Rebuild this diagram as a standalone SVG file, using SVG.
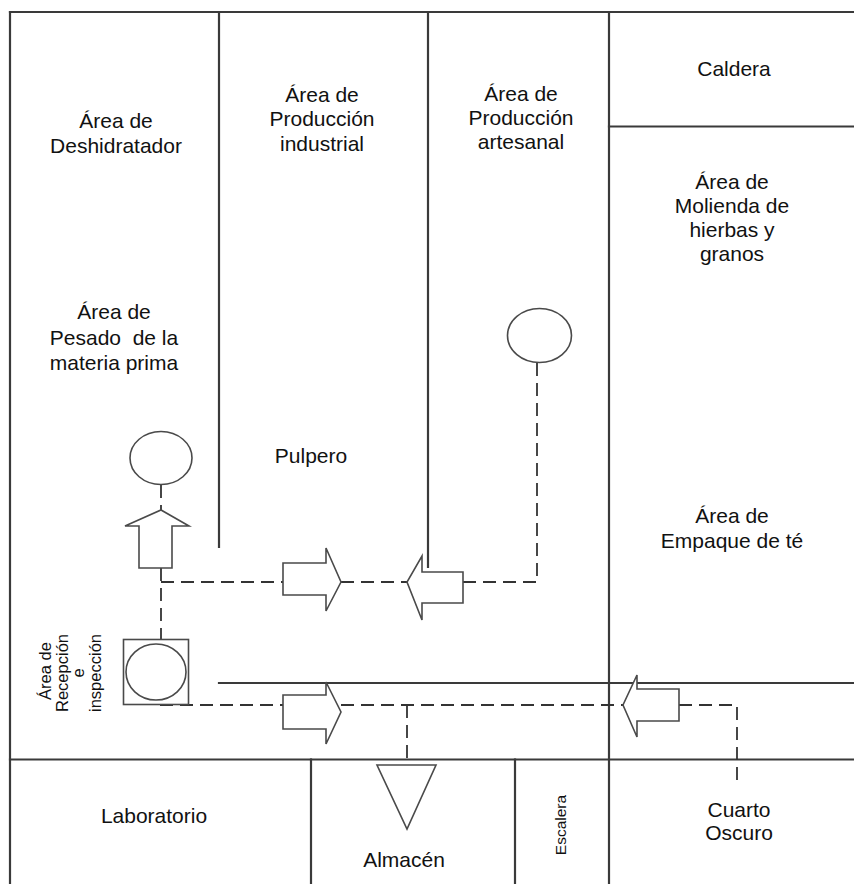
<svg xmlns="http://www.w3.org/2000/svg" width="854" height="884" viewBox="0 0 854 884">
<style>
.wall{stroke:#3a3a3a;stroke-width:2.2;fill:none;stroke-linecap:square}
.shape{stroke:#4a4a4a;stroke-width:1.6;fill:#fff}
.flow{stroke:#333;stroke-width:1.8;fill:none;stroke-dasharray:13 7}
.lbl{font-family:"Liberation Sans",Arial,sans-serif;font-size:21px;fill:#111;text-anchor:middle}
.small{font-family:"Liberation Sans",Arial,sans-serif;font-size:16.5px;fill:#111;text-anchor:middle}
.esc{font-family:"Liberation Sans",Arial,sans-serif;font-size:15.5px;fill:#111;text-anchor:middle}
</style>
<rect width="854" height="884" fill="#fff"/>
<g id="walls">
<line class="wall" x1="10" y1="12" x2="854" y2="12"/>
<line class="wall" x1="10" y1="12" x2="10" y2="884"/>
<line class="wall" x1="219" y1="12" x2="219" y2="547"/>
<line class="wall" x1="428" y1="12" x2="428" y2="567"/>
<line class="wall" x1="609" y1="12" x2="609" y2="884"/>
<line class="wall" x1="609" y1="126.5" x2="854" y2="126.5"/>
<line class="wall" x1="219" y1="683" x2="854" y2="683"/>
<line class="wall" x1="10" y1="759.5" x2="854" y2="759.5"/>
<line class="wall" x1="311" y1="759.5" x2="311" y2="884"/>
<line class="wall" x1="515" y1="759.5" x2="515" y2="884"/>
</g>
<g id="connectors">
<path class="flow" d="M161,485 V510"/>
<path class="flow" d="M161,568 V639"/>
<path class="flow" d="M161,582 H283"/>
<path class="flow" d="M341,582 H407"/>
<path class="flow" d="M463,582 H537 V363"/>
<path class="flow" d="M160,705 H283"/>
<path class="flow" d="M341,705 H623"/>
<path class="flow" d="M407,705 V765"/>
<path class="flow" d="M679,705 H737 V783"/>
</g>
<g id="area-deshidratador"><text class="lbl" x="116" y="128">Área de</text><text class="lbl" x="116" y="153">Deshidratador</text></g>
<g id="area-produccion-industrial"><text class="lbl" x="322" y="102">Área de</text><text class="lbl" x="322" y="126">Producción</text><text class="lbl" x="322" y="151">industrial</text></g>
<g id="area-produccion-artesanal"><text class="lbl" x="521" y="101">Área de</text><text class="lbl" x="521" y="125">Producción</text><text class="lbl" x="521" y="149">artesanal</text></g>
<g id="caldera"><text class="lbl" x="734" y="76">Caldera</text></g>
<g id="area-molienda"><text class="lbl" x="732" y="189">Área de</text><text class="lbl" x="732" y="213">Molienda de</text><text class="lbl" x="732" y="237">hierbas y</text><text class="lbl" x="732" y="261">granos</text></g>
<g id="area-pesado"><text class="lbl" x="114" y="319" xml:space="preserve">Área de</text><text class="lbl" x="114" y="345" xml:space="preserve">Pesado  de la</text><text class="lbl" x="114" y="370">materia prima</text></g>
<g id="pulpero"><text class="lbl" x="311" y="463">Pulpero</text></g>
<g id="area-empaque"><text class="lbl" x="732" y="523">Área de</text><text class="lbl" x="732" y="548">Empaque de té</text></g>
<g id="laboratorio"><text class="lbl" x="154" y="823">Laboratorio</text></g>
<g id="almacen"><text class="lbl" x="404" y="867">Almacén</text></g>
<g id="escalera"><text class="esc" transform="translate(566,825) rotate(-90)">Escalera</text></g>
<g id="cuarto-oscuro"><text class="lbl" x="739" y="817">Cuarto</text><text class="lbl" x="739" y="840">Oscuro</text></g>
<g id="area-recepcion">
<text class="small" transform="translate(51,671) rotate(-90)">Área de</text>
<text class="small" transform="translate(68,673) rotate(-90)">Recepción</text>
<text class="small" transform="translate(84,673) rotate(-90)">e</text>
<text class="small" transform="translate(101,673) rotate(-90)">inspección</text>
</g>
<g id="inspeccion-recepcion"><rect class="shape" x="123.5" y="639.5" width="65" height="65"/><ellipse class="shape" cx="156" cy="672" rx="30" ry="28"/></g>
<g id="operacion-pesado"><ellipse class="shape" cx="161" cy="458" rx="31" ry="26.5"/></g>
<g id="operacion-artesanal"><ellipse class="shape" cx="539.5" cy="335.5" rx="32" ry="27"/></g>
<g id="transporte-arriba"><polygon class="shape" points="139,568 139,526 125,526 161,510 189,526 172,526 172,568"/></g>
<g id="transporte-derecha-1"><polygon class="shape" points="283,563 326,563 326,548 341,582 326,611 326,595 283,595"/></g>
<g id="transporte-izquierda-1"><polygon class="shape" points="463,572 422,572 422,556 407,582 422,620 422,603 463,603"/></g>
<g id="transporte-derecha-2"><polygon class="shape" points="283,695 326,695 326,682 341,712 326,744 326,729 283,729"/></g>
<g id="transporte-izquierda-2"><polygon class="shape" points="679,689 637,689 637,675 623,705 637,737 637,721 679,721"/></g>
<g id="almacenamiento"><polygon class="shape" points="377,765 436,765 407,829"/></g>
</svg>
